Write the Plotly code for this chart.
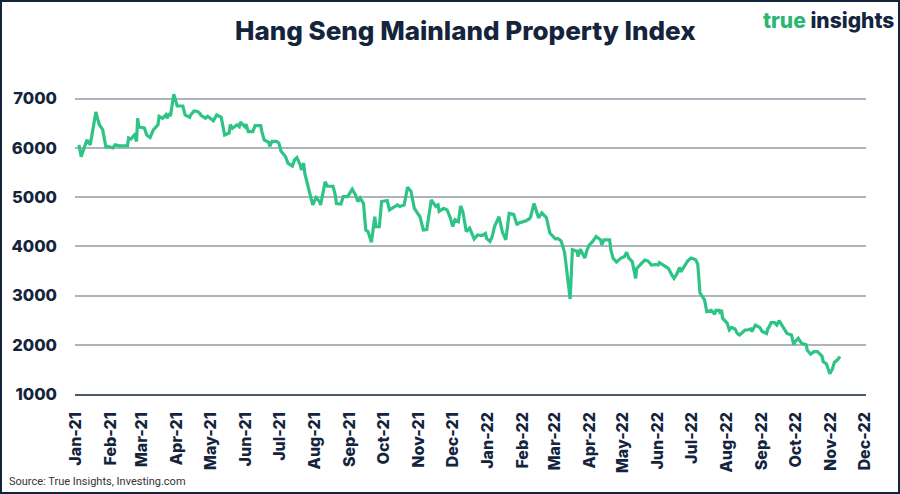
import plotly.graph_objects as go

dates = [
    "2021-01-04", "2021-01-06", "2021-01-07", "2021-01-11", "2021-01-14", "2021-01-15",
    "2021-01-19", "2021-01-20", "2021-01-22", "2021-01-25", "2021-01-28", "2021-01-29",
    "2021-02-03", "2021-02-05", "2021-02-09", "2021-02-16", "2021-02-17", "2021-02-19",
    "2021-02-22", "2021-02-24", "2021-02-25", "2021-02-26", "2021-03-03", "2021-03-05",
    "2021-03-08", "2021-03-11", "2021-03-15", "2021-03-16", "2021-03-19", "2021-03-22",
    "2021-03-23", "2021-03-25", "2021-03-26", "2021-03-29", "2021-03-31", "2021-04-01",
    "2021-04-06", "2021-04-08", "2021-04-12", "2021-04-13", "2021-04-16", "2021-04-19",
    "2021-04-21", "2021-04-22", "2021-04-26", "2021-04-28", "2021-05-03", "2021-05-06",
    "2021-05-10", "2021-05-11", "2021-05-13", "2021-05-17", "2021-05-18", "2021-05-20",
    "2021-05-24", "2021-05-26", "2021-05-27", "2021-05-31", "2021-06-01", "2021-06-03",
    "2021-06-07", "2021-06-09", "2021-06-14", "2021-06-15", "2021-06-17", "2021-06-21",
    "2021-06-22", "2021-06-24", "2021-06-28", "2021-06-30", "2021-07-02", "2021-07-06",
    "2021-07-08", "2021-07-12", "2021-07-14", "2021-07-16", "2021-07-19", "2021-07-20",
    "2021-07-22", "2021-07-23", "2021-07-27", "2021-07-28", "2021-07-30", "2021-08-02",
    "2021-08-05", "2021-08-06", "2021-08-10", "2021-08-12", "2021-08-17", "2021-08-19",
    "2021-08-20", "2021-08-24", "2021-08-26", "2021-08-30", "2021-09-03", "2021-09-06",
    "2021-09-08", "2021-09-10", "2021-09-13", "2021-09-15", "2021-09-17", "2021-09-20",
    "2021-09-23", "2021-09-24", "2021-09-27", "2021-09-29", "2021-10-04", "2021-10-06",
    "2021-10-11", "2021-10-13", "2021-10-15", "2021-10-19", "2021-10-22", "2021-10-25",
    "2021-10-28", "2021-11-02", "2021-11-05", "2021-11-08", "2021-11-12", "2021-11-16",
    "2021-11-18", "2021-11-19", "2021-11-23", "2021-11-26", "2021-11-29", "2021-12-01",
    "2021-12-03", "2021-12-06", "2021-12-08", "2021-12-10", "2021-12-13", "2021-12-16",
    "2021-12-20", "2021-12-23", "2021-12-27", "2021-12-30", "2021-12-31",
    "2022-01-03", "2022-01-05", "2022-01-07", "2022-01-11", "2022-01-14", "2022-01-17",
    "2022-01-20", "2022-01-24", "2022-01-27", "2022-01-28", "2022-02-04", "2022-02-07",
    "2022-02-08", "2022-02-10", "2022-02-11", "2022-02-15", "2022-02-18", "2022-02-22",
    "2022-02-25", "2022-03-02", "2022-03-04", "2022-03-07", "2022-03-10", "2022-03-11",
    "2022-03-15", "2022-03-17", "2022-03-21", "2022-03-22", "2022-03-24", "2022-03-28",
    "2022-03-30", "2022-04-01", "2022-04-04", "2022-04-07", "2022-04-11", "2022-04-12",
    "2022-04-14", "2022-04-19", "2022-04-20", "2022-04-22", "2022-04-25", "2022-04-29",
    "2022-05-02", "2022-05-04", "2022-05-06", "2022-05-09", "2022-05-10", "2022-05-12",
    "2022-05-13", "2022-05-17", "2022-05-20", "2022-05-23", "2022-05-26", "2022-05-30",
    "2022-06-01", "2022-06-02", "2022-06-06", "2022-06-07", "2022-06-10", "2022-06-13",
    "2022-06-15", "2022-06-17", "2022-06-20", "2022-06-21", "2022-06-24", "2022-06-27",
    "2022-06-30", "2022-07-04", "2022-07-06", "2022-07-07", "2022-07-08", "2022-07-12",
    "2022-07-14", "2022-07-18", "2022-07-21", "2022-07-22", "2022-07-25", "2022-07-26",
    "2022-07-27", "2022-07-28", "2022-08-01", "2022-08-03", "2022-08-05", "2022-08-08",
    "2022-08-10", "2022-08-12", "2022-08-15", "2022-08-17", "2022-08-19", "2022-08-22",
    "2022-08-23", "2022-08-26", "2022-08-30", "2022-09-01", "2022-09-05", "2022-09-06",
    "2022-09-07", "2022-09-09", "2022-09-12", "2022-09-14", "2022-09-16", "2022-09-19",
    "2022-09-21", "2022-09-23", "2022-09-27", "2022-09-29", "2022-09-30", "2022-10-03",
    "2022-10-06", "2022-10-10", "2022-10-11", "2022-10-14", "2022-10-17", "2022-10-20",
    "2022-10-24", "2022-10-25", "2022-10-28", "2022-10-31", "2022-11-01", "2022-11-02",
    "2022-11-03", "2022-11-04", "2022-11-07", "2022-11-09",
]

index_values = [
    6060, 5820, 5890, 6160, 6060, 6200,
    6730, 6640, 6470, 6370, 6000, 6030,
    6000, 6060, 6040, 6040, 6200, 6180,
    6260, 6130, 6600, 6430, 6400, 6260,
    6210, 6370, 6470, 6640, 6600, 6670,
    6600, 6700, 6640, 7090, 6880, 6850,
    6850, 6670, 6620, 6670, 6750, 6740,
    6700, 6660, 6600, 6640, 6550, 6670,
    6620, 6500, 6260, 6300, 6470, 6400,
    6470, 6430, 6520, 6430, 6480, 6330,
    6330, 6450, 6450, 6330, 6160, 6110,
    6030, 6130, 6130, 6100, 5930, 5820,
    5690, 5630, 5760, 5800, 5650, 5550,
    5690, 5480, 5080, 4980, 4840, 4990,
    4910, 4840, 5310, 5220, 5220, 5040,
    4870, 4860, 5010, 5010, 5160, 5040,
    4910, 4980, 4870, 4330, 4300, 4080,
    4600, 4400, 4400, 4910, 4930, 4740,
    4810, 4840, 4810, 4840, 5200, 5120,
    4770, 4600, 4330, 4340, 4940, 4810,
    4840, 4710, 4770, 4740, 4570, 4400,
    4540, 4500, 4820, 4700, 4300, 4370,
    4150, 4230, 4220, 4260, 4160,
    4100, 4200, 4400, 4600, 4290, 4130,
    4670, 4650, 4430, 4470, 4520, 4560,
    4600, 4780, 4870, 4580, 4680, 4580,
    4270, 4150, 4160, 4110, 3880, 3700,
    2930, 3930, 3900, 3790, 3940, 3760,
    3930, 4030, 4100, 4200, 4130, 4030,
    4130, 4130, 3930, 3760, 3680, 3760,
    3790, 3880, 3760, 3690, 3590, 3350,
    3550, 3660, 3720, 3700, 3620, 3630,
    3620, 3670, 3600, 3600, 3550, 3420,
    3350, 3420, 3570, 3480, 3590, 3700,
    3760, 3730, 3640, 3420, 3050, 2910,
    2670, 2700, 2620, 2700, 2700, 2630,
    2710, 2540, 2440, 2300, 2350, 2320,
    2230, 2200, 2250, 2300, 2300, 2320,
    2270, 2400, 2350, 2270, 2230, 2330,
    2350, 2450, 2450, 2400, 2490, 2370,
    2300, 2230, 2200, 2000, 2060, 2130,
    2030, 2000, 1890, 1810, 1860, 1860,
    1770, 1660, 1610, 1410, 1460, 1490,
    1570, 1640, 1700, 1760,
]

y_ticks = [1000, 2000, 3000, 4000, 5000, 6000, 7000]

NAVY = "#14243d"
GREEN = "#2ec486"
FONT = "Inter, Lato, sans-serif"

fig = go.Figure()
fig.add_trace(go.Scatter(
    x=dates, y=index_values, mode="lines",
    line=dict(color=GREEN, width=3.2),
    hoverinfo="skip", showlegend=False,
))

fig.update_layout(
    width=900, height=494,
    margin=dict(l=75, r=34, t=74, b=100),
    paper_bgcolor="white", plot_bgcolor="white",
    font=dict(family=FONT, color=NAVY),
    title=dict(
        text="Hang Seng Mainland Property Index",
        x=0.517, xanchor="center", y=0.938, yanchor="middle",
        font=dict(size=26, color=NAVY, family=FONT, weight=800),
    ),
    xaxis=dict(
        type="date",
        range=["2020-12-31 12:00", "2022-12-02"],
        tickmode="linear", tick0="2021-01-01", dtick="M1",
        tickformat="%b-%y", tickangle=-90,
        tickfont=dict(size=16, color=NAVY, family=FONT, weight=800),
        showgrid=False, showline=True, linecolor="#4d5a6e", linewidth=1.5,
        ticks="", ticklabelstandoff=10,
        zeroline=False,
    ),
    yaxis=dict(
        range=[1000, 7500],
        tickvals=y_ticks,
        tickfont=dict(size=16.5, color=NAVY, family=FONT, weight=800),
        showgrid=True, gridcolor="#aeb4bd", gridwidth=1.5,
        zeroline=False, showline=False, ticks="",
        ticklabelstandoff=17,
    ),
    shapes=[dict(
        type="rect", xref="paper", yref="paper",
        x0=-74/791, x1=824/791, y0=-99/320, y1=393/320,
        line=dict(color=NAVY, width=2), fillcolor="rgba(0,0,0,0)",
        layer="above",
    )],
    annotations=[
        dict(
            text="<span style='color:#2bb673'>true</span> insights",
            xref="paper", yref="paper", x=821/791, y=374/320,
            xanchor="right", yanchor="middle", showarrow=False,
            font=dict(size=21, color=NAVY, family=FONT, weight=800),
        ),
        dict(
            text="Source: True Insights, Investing.com",
            xref="paper", yref="paper", x=-68/791, y=-87/320,
            xanchor="left", yanchor="middle", showarrow=False,
            font=dict(size=11, color="#333333", family="'Liberation Sans Narrow', 'Roboto', sans-serif"),
        ),
    ],
)

fig.write_html(
    "out.html",
    config={"displayModeBar": False},
    post_script="document.body.style.margin='0px';document.body.style.overflow='hidden';",
)
